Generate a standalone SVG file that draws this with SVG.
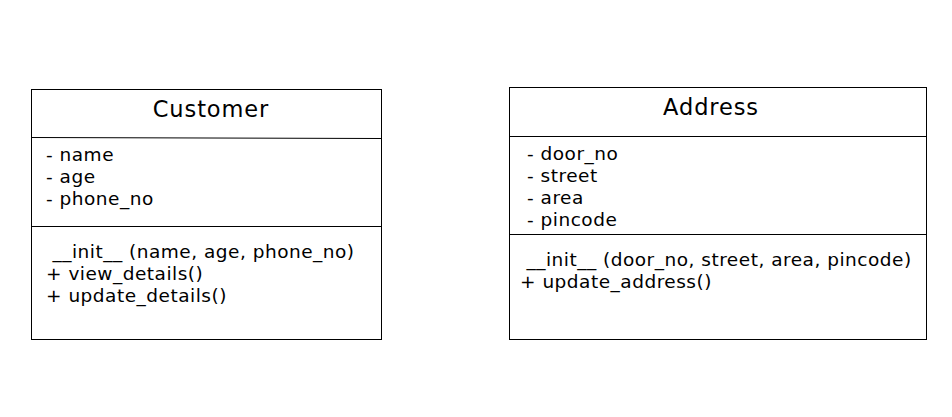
<svg xmlns="http://www.w3.org/2000/svg" width="952" height="417" viewBox="0 0 952 417">
<style>
.box{fill:#fff;stroke:#000;stroke-width:1}
.ln{stroke:#000;stroke-width:1;fill:none}
text{font-family:"DejaVu Sans",Verdana,sans-serif;fill:#000}
.t{font-size:22.5px;letter-spacing:0.9px}
.a{font-size:18.5px;letter-spacing:0.5px}
</style>
<rect width="952" height="417" fill="#fff"/>
<g id="customer">
<rect class="box" x="31.5" y="89.5" width="350" height="250"/>
<line class="ln" x1="31.5" y1="137.5" x2="381.5" y2="138.5"/>
<line class="ln" x1="31.5" y1="226.5" x2="381.5" y2="226.5"/>
<text class="t" x="211" y="117" text-anchor="middle">Customer</text>
<text class="a" x="46" y="161">- name</text>
<text class="a" x="46" y="183">- age</text>
<text class="a" x="46" y="205">- phone_no</text>
<text class="a" x="46" y="258" xml:space="preserve"> __init__ (name, age, phone_no)</text>
<text class="a" x="46" y="280">+ view_details()</text>
<text class="a" x="46" y="302">+ update_details()</text>
</g>
<g id="address">
<rect class="box" x="509.5" y="87.5" width="417" height="252"/>
<line class="ln" x1="509.5" y1="136.5" x2="926.5" y2="136.5"/>
<line class="ln" x1="509.5" y1="234.5" x2="926.5" y2="234.5"/>
<text class="t" x="711" y="115" text-anchor="middle">Address</text>
<text class="a" x="527" y="160">- door_no</text>
<text class="a" x="527" y="182">- street</text>
<text class="a" x="527" y="204">- area</text>
<text class="a" x="527" y="226">- pincode</text>
<text class="a" x="520" y="266" xml:space="preserve"> __init__ (door_no, street, area, pincode)</text>
<text class="a" x="520" y="288">+ update_address()</text>
</g>
<g id="connectors"></g>
</svg>
